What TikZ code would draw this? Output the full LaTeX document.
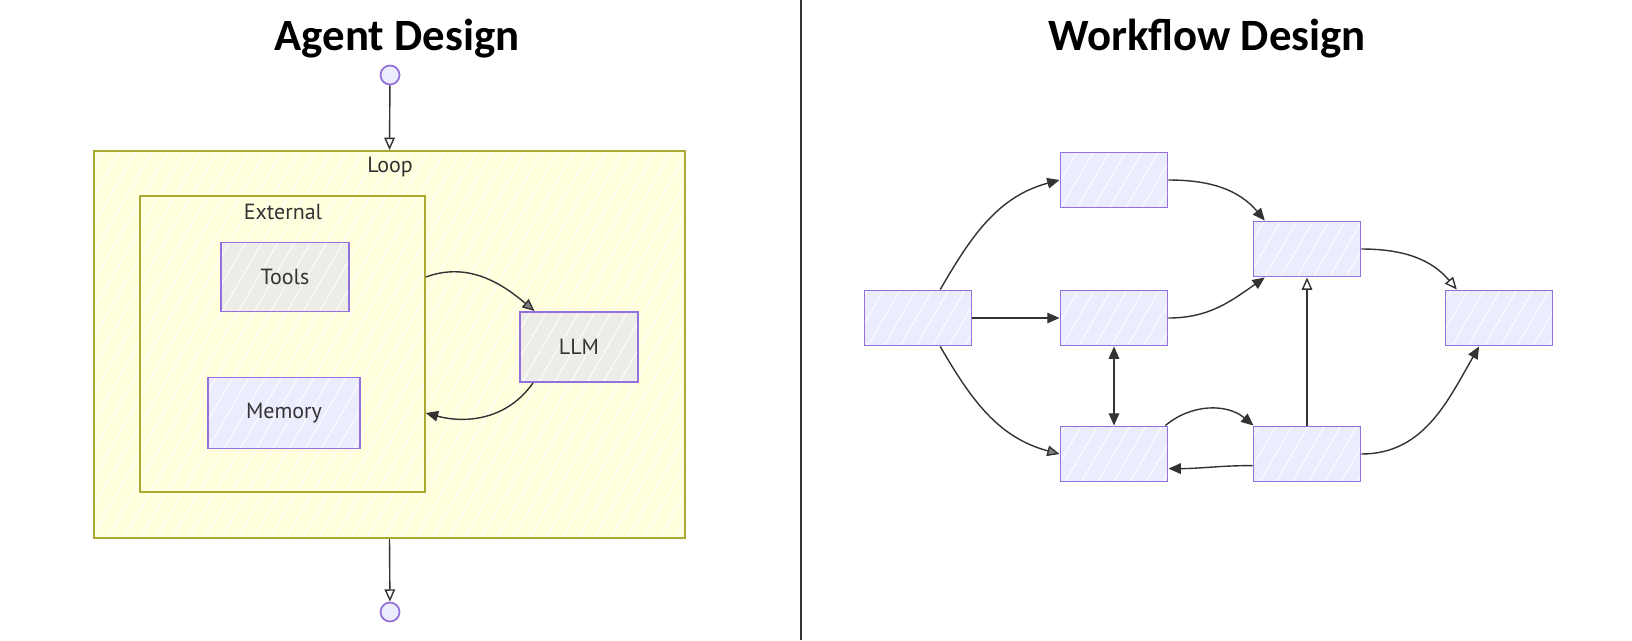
\documentclass[tikz,border=0pt]{standalone}
\usepackage{fontspec}
\setmainfont{PT Sans}
\newfontfamily\titlefont{Carlito}
\usetikzlibrary{arrows.meta, positioning, patterns.meta}

\definecolor{loopfill}{HTML}{FFFFDE}
\definecolor{loopline}{HTML}{AAAA33}
\definecolor{boxline}{HTML}{9370DB}
\definecolor{boxfill}{HTML}{ECECFF}
\definecolor{toolfill}{HTML}{ECECE8}
\definecolor{edgegray}{HTML}{333333}

\begin{document}
\begin{tikzpicture}[x=0.02cm, y=-0.02cm,
    font=\fontsize{12.5}{15}\selectfont,
    hatch/.style={preaction={fill=#1}, preaction={pattern={Lines[angle=60, distance=8pt, line width=0.5pt]}, pattern color=white}},
    grp/.style={draw=loopline, hatch=loopfill, line width=1.2pt, inner sep=0pt},
    task/.style={draw=boxline, hatch=boxfill, line width=1.1pt, text=edgegray, minimum width=2.14cm, minimum height=1.1cm},
    tool/.style={draw=boxline, hatch=toolfill, line width=1.1pt, text=edgegray},
    endpt/.style={circle, draw=boxline, fill=boxfill, line width=1pt, minimum size=0.38cm, inner sep=0pt},
    title/.style={font=\titlefont\bfseries\fontsize{25.5}{30}\selectfont},
    flow/.style={-{Triangle[length=7pt, width=6pt]}, draw=edgegray, line width=0.8pt},
    graytip/.style={-{Triangle[length=7pt, width=6pt, fill=gray]}, draw=edgegray, line width=0.8pt},
    opentip/.style={-{Triangle[open, length=7pt, width=6pt, fill=white]}, draw=edgegray, line width=0.8pt},
  ]
  \useasboundingbox (0,0) rectangle (1632,640);

  % titles and divider
  \node[title] (agenttitle) at (397,39) {Agent Design};
  \node[title] (flowtitle) at (1207,39) {Workflow Design};
  \draw[edgegray, line width=0.8pt] (801,0) -- (801,640);

  % Agent design: loop and external groups
  \node[grp, minimum width=11.82cm, minimum height=7.74cm] (loop) at (389.5,344.5) {};
  \node[text=edgegray] (looplbl) at (390,167) {Loop};
  \node[grp, line width=0.9pt, minimum width=5.7cm, minimum height=5.92cm] (ext) at (282.5,344) {};
  \node[text=edgegray] (extlbl) at (283,212) {External};

  \node[tool, minimum width=2.56cm, minimum height=1.38cm] (tools) at (285,277) {Tools};
  \node[task, minimum width=3.04cm, minimum height=1.42cm] (memory) at (284,413) {Memory};
  \node[tool, minimum width=2.36cm, minimum height=1.4cm] (llm) at (579,347) {LLM};

  \node[endpt] (start) at (390,75) {};
  \node[endpt] (stop) at (390,612) {};

  \draw[opentip] (start) -- (loop.north);
  \draw[opentip] (loop.south) -- (stop);
  \draw[graytip] (ext.east |- tools) to[out=20, in=140] (llm.141);
  \draw[flow] (llm.218) to[out=235, in=-15] (ext.east |- memory);

  % Workflow design
  \foreach \n/\x/\y in {n1/918/318, n2/1114/180, n3/1114/318, n4/1114/454, n5/1307/249, n6/1307/454, n7/1499/318} {
    \node[task] (\n) at (\x,\y) {};
  }

  \draw[flow] (n1.52) to[out=60, in=195] (n2.west);
  \draw[flow] (n1.east) -- (n3.west);
  \draw[graytip] (n1.-52) to[out=-60, in=165] (n4.west);
  \draw[flow] (n2.east) to[out=0, in=130] (n5.146);
  \draw[flow] (n3.east) to[out=0, in=215] (n5.214);
  \draw[{Triangle[length=7pt, width=6pt]}-{Triangle[length=7pt, width=6pt]}, draw=edgegray, line width=0.8pt] (n3.south) -- (n4.north);
  \draw[flow] (n4.29) to[out=40, in=140] (n6.152);
  \draw[flow] (n6.192) to[out=180, in=0] (n4.-15);
  \draw[opentip] (n6.north) -- (n5.south);
  \draw[opentip] (n5.east) to[out=0, in=130] (n7.146);
  \draw[flow] (n6.east) to[out=0, in=240] (n7.235);
\end{tikzpicture}
\end{document}
